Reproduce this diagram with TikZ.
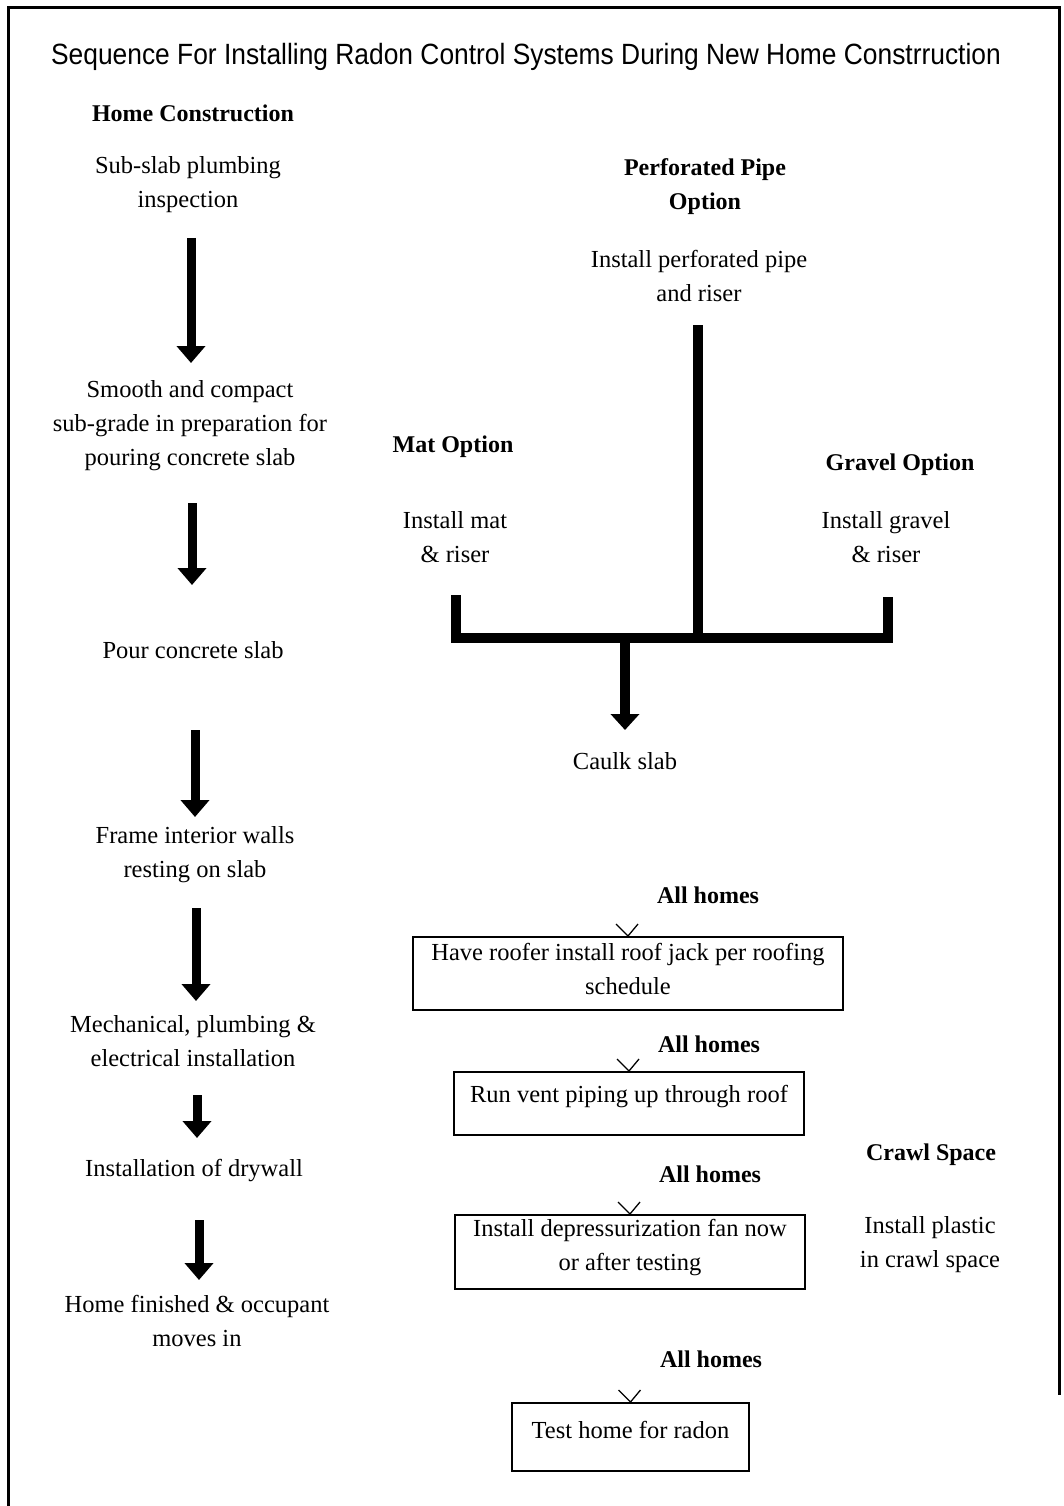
\documentclass[tikz,border=0pt]{standalone}
\usepackage{fontspec}
\setmainfont{Liberation Serif}
\newfontfamily\titlefont[FakeStretch=0.9]{Liberation Sans}
\usetikzlibrary{arrows.meta}
\begin{document}
\begin{tikzpicture}[x=1pt,y=-1pt,
  txt/.style={inner sep=0pt, align=center, font=\fontsize{24.5}{34}\selectfont},
  hdr/.style={txt, font=\fontsize{24}{34}\selectfont\bfseries},
  boxst/.style={draw, line width=2pt, inner sep=0pt},
  bigarrow/.style={line width=9pt, -{Triangle[width=28pt,length=17pt]}},
  bar/.style={line width=10pt, miter limit=10},
  vtip/.style={line width=1.3pt}
]
\useasboundingbox (0,0) rectangle (1063,1506);
% frame
\draw[line width=3pt] (8,1506) -- (8,8) -- (1059,8) -- (1059,1395);

% title
\node[inner sep=0pt, font=\titlefont\fontsize{29.3}{34}\selectfont] (title) at (526,57) {Sequence For Installing Radon Control Systems During New Home Constrruction};

% left column
\node[hdr] (hc) at (193,113) {Home Construction};
\node[txt] (l1) at (188,184.5) {Sub-slab plumbing\\inspection};
\node[txt] (l2) at (190,426) {Smooth and compact\\sub-grade in preparation for\\pouring concrete slab};
\node[txt] (l3) at (193,650) {Pour concrete slab};
\node[txt] (l4) at (195,855) {Frame interior walls\\resting on slab};
\node[txt] (l5) at (193,1041) {Mechanical, plumbing \&\\electrical installation};
\node[txt] (l6) at (194,1171) {Installation of drywall};
\node[txt] (l7) at (197,1320.5) {Home finished \& occupant\\moves in};

\coordinate (a1s) at (191,238); \coordinate (a1e) at (191,363);
\coordinate (a2s) at (192,503); \coordinate (a2e) at (192,585);
\coordinate (a3s) at (195,730); \coordinate (a3e) at (195,817);
\coordinate (a4s) at (196,908); \coordinate (a4e) at (196,1001);
\coordinate (a5s) at (197,1095); \coordinate (a5e) at (197,1138);
\coordinate (a6s) at (199,1220); \coordinate (a6e) at (199,1280);
\foreach \i in {1,...,6} \draw[bigarrow] (a\i s) -- (a\i e);

% right top
\node[hdr] (pph) at (705,186.5) {Perforated Pipe\\Option};
\node[txt] (ppt) at (699,275.5) {Install perforated pipe\\and riser};
\node[hdr] (math) at (453,447) {Mat Option};
\node[txt] (matt) at (455,537.5) {Install mat\\\& riser};
\node[hdr] (grh) at (900,465) {Gravel Option};
\node[txt] (grt) at (886,537.5) {Install gravel\\\& riser};

\coordinate (mtop) at (456,595);
\coordinate (gtop) at (888,597);
\coordinate (ptop) at (698,325);
\coordinate (jl) at (456,638);
\coordinate (jr) at (888,638);
\coordinate (jp) at (698,638);
\coordinate (jc) at (625,638);
\draw[bar] (mtop) -- (jl) -- (jr) -- (gtop);
\draw[bar] (ptop) -- (jp);
\node[txt] (caulk) at (625,761) {Caulk slab};
\draw[line width=10pt, -{Triangle[width=28pt,length=16pt]}] (jc) -- (625,730);

% all homes boxes
\node[hdr] (ah1) at (708,895) {All homes};
\node[boxst, minimum width=430pt, minimum height=73pt] (b1) at (628,973.5) {};
\node[txt] (t1) at (628,969) {Have roofer install roof jack per roofing\\schedule};

\node[hdr] (ah2) at (709,1044) {All homes};
\node[boxst, minimum width=350pt, minimum height=63pt] (b2) at (629,1103.5) {};
\node[txt] (t2) at (629,1097) {Run vent piping up through roof};

\node[hdr] (cs) at (931,1155) {Crawl Space};
\node[txt] (cst) at (930,1245) {Install plastic\\in crawl space};

\node[hdr] (ah3) at (710,1174) {All homes};
\node[boxst, minimum width=350pt, minimum height=74pt] (b3) at (630,1252) {};
\node[txt] (t3) at (630,1248) {Install depressurization fan now\\or after testing};

\node[hdr] (ah4) at (711,1359) {All homes};
\node[boxst, minimum width=237pt, minimum height=68pt] (b4) at (630.5,1437) {};
\node[txt] (t4) at (630.5,1430) {Test home for radon};

\foreach \b in {b1,b2,b3,b4}
  \draw[vtip] ([xshift=-12pt,yshift=12pt]\b.north) -- (\b.north) -- ([xshift=10pt,yshift=12pt]\b.north);
\end{tikzpicture}
\end{document}
